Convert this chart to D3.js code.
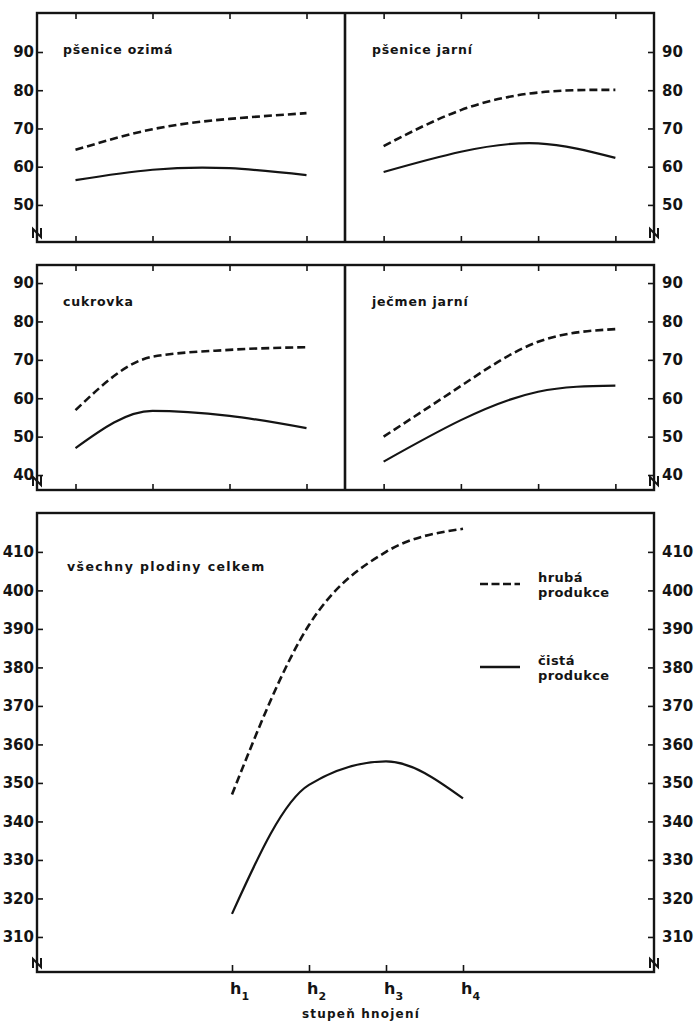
<!DOCTYPE html>
<html>
<head>
<meta charset="utf-8">
<script src="https://cdn.jsdelivr.net/npm/d3@7"></script>
<style>
  body { margin: 0; background: #fff; }
  text { font-family: "DejaVu Sans", sans-serif; font-weight: bold; fill: #141414; }
  .tick-label text { font-size: 15px; }
  .title { font-size: 12.5px; letter-spacing: 0.8px; }
  .legend { font-size: 13px; letter-spacing: 0.4px; }
</style>
</head>
<body>
<svg id="chart" width="694" height="1023"></svg>
<script>
// stupne hnojeni
const levels = ['h1', 'h2', 'h3', 'h4']

// hruba / cista produkce
const pseniceOzimaHruba = [64.4, 69.8, 72.5, 74.0]
const pseniceOzimaCista = [56.5, 59.2, 59.6, 57.8]
const pseniceJarniHruba = [65.4, 74.8, 79.4, 80.1]
const pseniceJarniCista = [58.6, 63.9, 66.1, 62.3]
const cukrovkaHruba = [56.9, 70.8, 72.6, 73.3]
const cukrovkaCista = [47.0, 56.7, 55.4, 52.2]
const jecmenJarniHruba = [50.0, 63.2, 74.7, 78.0]
const jecmenJarniCista = [43.5, 54.3, 61.7, 63.3]
const celkemHruba = [347, 391, 410, 416]
const celkemCista = [316, 349.5, 355.6, 346]

const topTicks = [50, 60, 70, 80, 90]
const midTicks = [40, 50, 60, 70, 80, 90]
const bottomTicks = [310, 320, 330, 340, 350, 360, 370, 380, 390, 400, 410]

const ink = '#141414'
const left = 37, right = 654, mid = 345

const svg = d3.select('#chart')

// scales
const yTop = d3.scaleLinear().domain([40.3, 100.2]).range([242, 13])
const yMid = d3.scaleLinear().domain([36.1, 94.7]).range([490, 265])
const yBottom = d3.scaleLinear().domain([300.9, 420.1]).range([972, 513])
const xLeft = d3.scalePoint().domain(levels).range([left, mid]).padding(0.5)
const xRight = d3.scalePoint().domain(levels).range([mid, right]).padding(0.5)
const xBottom = d3.scalePoint().domain(levels).range([232, 463])

const panels = [
  { title: 'pšenice ozimá', x: xLeft, y: yTop, hruba: pseniceOzimaHruba, cista: pseniceOzimaCista, ticks: topTicks, side: 'left', curve: d3.curveNatural },
  { title: 'pšenice jarní', x: xRight, y: yTop, hruba: pseniceJarniHruba, cista: pseniceJarniCista, ticks: topTicks, side: 'right', curve: d3.curveNatural },
  { title: 'cukrovka', x: xLeft, y: yMid, hruba: cukrovkaHruba, cista: cukrovkaCista, ticks: midTicks, side: 'left', curve: d3.curveMonotoneX },
  { title: 'ječmen jarní', x: xRight, y: yMid, hruba: jecmenJarniHruba, cista: jecmenJarniCista, ticks: midTicks, side: 'right', curve: d3.curveNatural }
]

function frame(y) {
  const [y0, y1] = y.range()
  svg.append('rect')
    .attr('x', left).attr('y', y1)
    .attr('width', right - left).attr('height', y0 - y1)
    .attr('fill', 'none').attr('stroke', ink).attr('stroke-width', 2.4)
}

// the little "Z" where the y axis is cut
function breakMark(x, y) {
  svg.append('path')
    .attr('d', `M${x - 4},${y + 5} L${x - 4},${y - 4} L${x + 4},${y + 4} L${x + 4},${y - 5}`)
    .attr('fill', 'none').attr('stroke', ink).attr('stroke-width', 2)
}

function yAxis(y, ticks, side) {
  const axis = side === 'left' ? d3.axisLeft(y) : d3.axisRight(y)
  axis.tickValues(ticks).tickSizeInner(-6).tickSizeOuter(0).tickPadding(side === 'left' ? 3 : 8)
  const g = svg.append('g')
    .attr('class', 'tick-label')
    .attr('transform', `translate(${side === 'left' ? left : right},0)`)
    .style('color', ink)
    .call(axis)
  g.attr('font-size', null).attr('font-family', null)
  g.select('.domain').remove()
  g.selectAll('line').attr('stroke-width', 1.6)
  breakMark(side === 'left' ? left : right, y.range()[0] - 9)
}

function line(x, y, curve) {
  return d3.line()
    .x((d, i) => x(levels[i]))
    .y(d => y(d))
    .curve(curve)
}

function curves(x, y, hruba, cista, curve) {
  svg.append('path')
    .attr('d', line(x, y, curve)(hruba))
    .attr('fill', 'none').attr('stroke', ink)
    .attr('stroke-width', 2.6).attr('stroke-dasharray', '8,4')
  svg.append('path')
    .attr('d', line(x, y, curve)(cista))
    .attr('fill', 'none').attr('stroke', ink)
    .attr('stroke-width', 2.2)
}

// frames
frame(yTop)
frame(yMid)
frame(yBottom)
svg.append('line').attr('x1', mid).attr('x2', mid).attr('y1', yTop.range()[1]).attr('y2', yTop.range()[0])
  .attr('stroke', ink).attr('stroke-width', 2.6)
svg.append('line').attr('x1', mid).attr('x2', mid).attr('y1', yMid.range()[1]).attr('y2', yMid.range()[0])
  .attr('stroke', ink).attr('stroke-width', 2.6)

panels.forEach(p => {
  const [yb, yt] = p.y.range()
  // x ticks at top and bottom edge, no labels
  const top = svg.append('g').attr('transform', `translate(0,${yt})`).style('color', ink)
    .call(d3.axisTop(p.x).tickSizeInner(-6).tickSizeOuter(0).tickFormat(''))
  top.select('.domain').remove()
  top.selectAll('line').attr('stroke-width', 1.6)
  const bot = svg.append('g').attr('transform', `translate(0,${yb})`).style('color', ink)
    .call(d3.axisBottom(p.x).tickSizeInner(-6).tickSizeOuter(0).tickFormat(''))
  bot.select('.domain').remove()
  bot.selectAll('line').attr('stroke-width', 1.6)

  yAxis(p.y, p.ticks, p.side)
  curves(p.x, p.y, p.hruba, p.cista, p.curve)

  svg.append('text').attr('class', 'title')
    .attr('x', p.side === 'left' ? left + 26 : mid + 27)
    .attr('y', yt + 41)
    .text(p.title)
})

// big panel: vsechny plodiny celkem
yAxis(yBottom, bottomTicks, 'left')
yAxis(yBottom, bottomTicks, 'right')
curves(xBottom, yBottom, celkemHruba, celkemCista, d3.curveMonotoneX)

const xb = svg.append('g').attr('transform', `translate(0,${yBottom.range()[0]})`).style('color', ink)
  .call(d3.axisBottom(xBottom).tickSizeInner(-7).tickSizeOuter(0).tickFormat(''))
xb.select('.domain').remove()
xb.selectAll('line').attr('stroke-width', 1.6)

const hl = svg.selectAll('.hlab').data(levels).enter().append('text')
  .attr('class', 'hlab')
  .attr('x', d => xBottom(d) - 2)
  .attr('y', 994)
  .style('font-size', '16px')
hl.append('tspan').text('h')
hl.append('tspan').attr('dy', 6).style('font-size', '11px').text(d => d.slice(1))

svg.append('text')
  .attr('x', 361).attr('y', 1018)
  .attr('text-anchor', 'middle')
  .style('font-size', '12px').style('letter-spacing', '1.2px')
  .text('stupeň hnojení')

svg.append('text').attr('class', 'title')
  .attr('x', left + 30).attr('y', yBottom.range()[1] + 58)
  .style('letter-spacing', '1.4px')
  .text('všechny plodiny celkem')

// legend
const legend = [
  { lines: ['hrubá', 'produkce'], dash: '8,3.5', y: 584 },
  { lines: ['čistá', 'produkce'], dash: null, y: 667 }
]
legend.forEach(l => {
  svg.append('line')
    .attr('x1', 480).attr('x2', 520).attr('y1', l.y).attr('y2', l.y)
    .attr('stroke', ink).attr('stroke-width', 2.4)
    .attr('stroke-dasharray', l.dash)
  const t = svg.append('text').attr('class', 'legend').attr('x', 538).attr('y', l.y - 2)
  t.append('tspan').text(l.lines[0])
  t.append('tspan').attr('x', 538).attr('dy', 15).text(l.lines[1])
})
</script>
</body>
</html>
